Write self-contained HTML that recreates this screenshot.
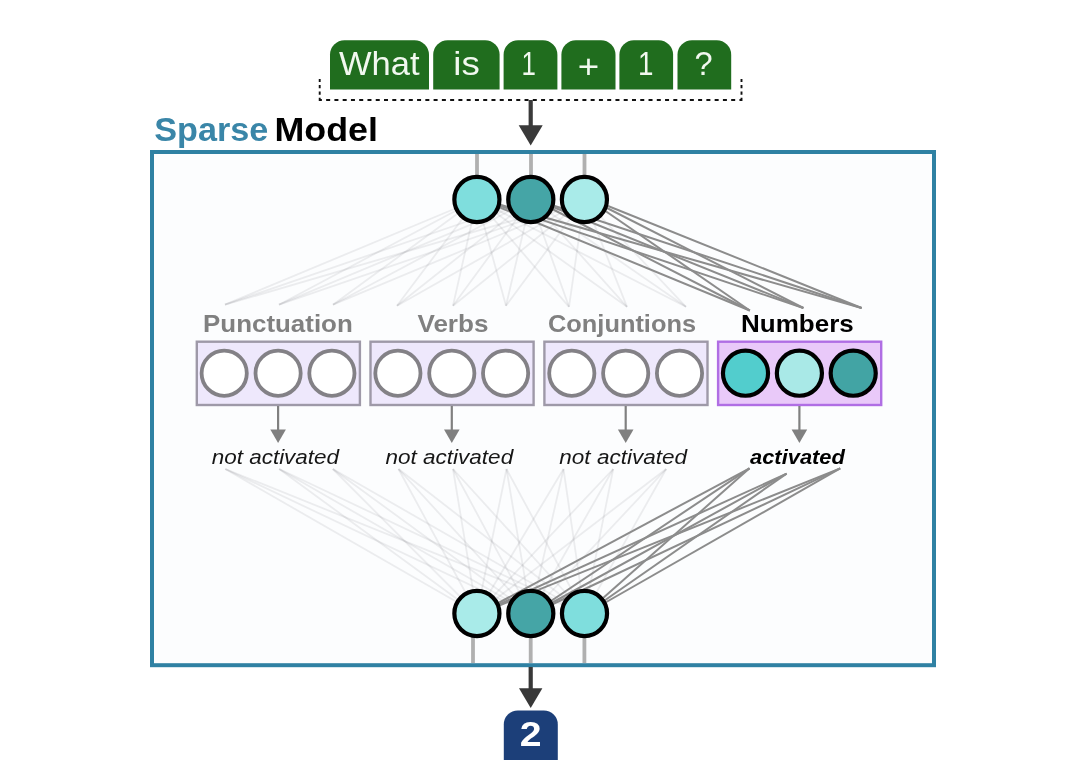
<!DOCTYPE html>
<html lang="en"><head><meta charset="utf-8"><title>Sparse Model</title>
<style>html,body{margin:0;padding:0;background:#fff;}body{width:1091px;height:783px;overflow:hidden;}svg{display:block;will-change:transform;}text{font-family:"Liberation Sans", sans-serif;}</style>
</head><body>
<svg width="1091" height="783" viewBox="0 0 1091 783">
<rect width="1091" height="783" fill="#ffffff"/>
<rect x="152" y="152" width="782" height="513.2" fill="#fcfdfe" stroke="#2f81a3" stroke-width="4"/>
<path d="M330.0,89.6 V54.7 A14.5,14.5 0 0 1 344.5,40.2 H414.5 A14.5,14.5 0 0 1 429.0,54.7 V89.6 Z" fill="#206d1e"/>
<text x="339.02" y="75.20" font-size="33.50" fill="#f1f8ef" textLength="80.61" lengthAdjust="spacingAndGlyphs">What</text>
<path d="M433.2,89.6 V54.7 A14.5,14.5 0 0 1 447.7,40.2 H485.1 A14.5,14.5 0 0 1 499.6,54.7 V89.6 Z" fill="#206d1e"/>
<text x="453.38" y="75.20" font-size="33.50" fill="#f1f8ef" textLength="26.46" lengthAdjust="spacingAndGlyphs">is</text>
<path d="M503.6,89.6 V54.7 A14.5,14.5 0 0 1 518.1,40.2 H542.9 A14.5,14.5 0 0 1 557.4,54.7 V89.6 Z" fill="#206d1e"/>
<text x="521.48" y="75.20" font-size="33.50" fill="#f1f8ef" textLength="14.38" lengthAdjust="spacingAndGlyphs">1</text>
<path d="M561.4,89.6 V54.7 A14.5,14.5 0 0 1 575.9,40.2 H601.0 A14.5,14.5 0 0 1 615.5,54.7 V89.6 Z" fill="#206d1e"/>
<text x="577.83" y="77.60" font-size="33.50" fill="#f1f8ef" textLength="21.46" lengthAdjust="spacingAndGlyphs">+</text>
<path d="M619.4,89.6 V54.7 A14.5,14.5 0 0 1 633.9,40.2 H658.6 A14.5,14.5 0 0 1 673.1,54.7 V89.6 Z" fill="#206d1e"/>
<text x="637.91" y="75.20" font-size="33.50" fill="#f1f8ef" textLength="15.45" lengthAdjust="spacingAndGlyphs">1</text>
<path d="M677.5,89.6 V54.7 A14.5,14.5 0 0 1 692.0,40.2 H716.7 A14.5,14.5 0 0 1 731.2,54.7 V89.6 Z" fill="#206d1e"/>
<text x="694.59" y="75.20" font-size="33.50" fill="#f1f8ef" textLength="18.14" lengthAdjust="spacingAndGlyphs">?</text>
<path d="M319.7,100.1 H741.5" fill="none" stroke="#111" stroke-width="2" stroke-dasharray="4 4.266" stroke-dashoffset="1.82"/>
<path d="M319.7,101.1 V79 M741.5,101.1 V79" fill="none" stroke="#111" stroke-width="1.9" stroke-dasharray="3.3 3.1"/>
<path d="M530.7,100 V128" stroke="#3a3a3a" stroke-width="4.2" fill="none"/>
<path d="M518.7,125.2 H542.7 L530.7,145.4 Z" fill="#3a3a3a"/>
<text x="154.32" y="141.20" font-size="32.50" fill="#3a86a8" textLength="114.05" lengthAdjust="spacingAndGlyphs" font-weight="bold">Sparse</text>
<text x="274.48" y="141.20" font-size="32.50" fill="#000" textLength="103.39" lengthAdjust="spacingAndGlyphs" font-weight="bold">Model</text>
<g stroke="#66686a" stroke-opacity="0.11" stroke-width="1.8" fill="none">
<path d="M476.9,199.5 L225.0,304.7"/>
<path d="M476.9,199.5 L279.0,304.7"/>
<path d="M476.9,199.5 L333.0,304.7"/>
<path d="M476.9,199.5 L397.0,305.8"/>
<path d="M476.9,199.5 L453.0,305.8"/>
<path d="M476.9,199.5 L506.0,305.8"/>
<path d="M476.9,199.5 L569.0,306.8"/>
<path d="M476.9,199.5 L627.0,306.8"/>
<path d="M476.9,199.5 L686.0,306.8"/>
<path d="M530.8,199.5 L225.0,304.7"/>
<path d="M530.8,199.5 L279.0,304.7"/>
<path d="M530.8,199.5 L333.0,304.7"/>
<path d="M530.8,199.5 L397.0,305.8"/>
<path d="M530.8,199.5 L453.0,305.8"/>
<path d="M530.8,199.5 L506.0,305.8"/>
<path d="M530.8,199.5 L569.0,306.8"/>
<path d="M530.8,199.5 L627.0,306.8"/>
<path d="M530.8,199.5 L686.0,306.8"/>
<path d="M584.4,199.5 L225.0,304.7"/>
<path d="M584.4,199.5 L279.0,304.7"/>
<path d="M584.4,199.5 L333.0,304.7"/>
<path d="M584.4,199.5 L397.0,305.8"/>
<path d="M584.4,199.5 L453.0,305.8"/>
<path d="M584.4,199.5 L506.0,305.8"/>
<path d="M584.4,199.5 L569.0,306.8"/>
<path d="M584.4,199.5 L627.0,306.8"/>
<path d="M584.4,199.5 L686.0,306.8"/>
<path d="M476.9,613.5 L225.3,469"/>
<path d="M476.9,613.5 L279.2,469"/>
<path d="M476.9,613.5 L332.8,469"/>
<path d="M476.9,613.5 L398.5,469"/>
<path d="M476.9,613.5 L453.0,469"/>
<path d="M476.9,613.5 L506.5,469"/>
<path d="M476.9,613.5 L563.5,469"/>
<path d="M476.9,613.5 L613.2,469"/>
<path d="M476.9,613.5 L666.2,469"/>
<path d="M530.8,613.5 L225.3,469"/>
<path d="M530.8,613.5 L279.2,469"/>
<path d="M530.8,613.5 L332.8,469"/>
<path d="M530.8,613.5 L398.5,469"/>
<path d="M530.8,613.5 L453.0,469"/>
<path d="M530.8,613.5 L506.5,469"/>
<path d="M530.8,613.5 L563.5,469"/>
<path d="M530.8,613.5 L613.2,469"/>
<path d="M530.8,613.5 L666.2,469"/>
<path d="M584.5,613.5 L225.3,469"/>
<path d="M584.5,613.5 L279.2,469"/>
<path d="M584.5,613.5 L332.8,469"/>
<path d="M584.5,613.5 L398.5,469"/>
<path d="M584.5,613.5 L453.0,469"/>
<path d="M584.5,613.5 L506.5,469"/>
<path d="M584.5,613.5 L563.5,469"/>
<path d="M584.5,613.5 L613.2,469"/>
<path d="M584.5,613.5 L666.2,469"/>
</g>
<g stroke="#8c8c8c" stroke-width="2" fill="none">
<path d="M476.9,198.0 L749.8,310.5"/>
<path d="M476.9,198.0 L803.4,308.0"/>
<path d="M476.9,198.0 L861.6,308.0"/>
<path d="M530.8,198.0 L749.8,310.5"/>
<path d="M530.8,198.0 L803.4,308.0"/>
<path d="M530.8,198.0 L861.6,308.0"/>
<path d="M584.4,196.5 L749.8,310.5"/>
<path d="M584.4,196.5 L803.4,308.0"/>
<path d="M584.4,196.5 L861.6,308.0"/>
<path d="M476.9,614.5 L749.5,468.3"/>
<path d="M476.9,614.5 L786.6,473.7"/>
<path d="M476.9,614.5 L840.2,468.4"/>
<path d="M530.8,614.5 L749.5,468.3"/>
<path d="M530.8,614.5 L786.6,473.7"/>
<path d="M530.8,614.5 L840.2,468.4"/>
<path d="M584.5,614.5 L749.5,468.3"/>
<path d="M584.5,614.5 L786.6,473.7"/>
<path d="M584.5,614.5 L840.2,468.4"/>
</g>
<g stroke="#b0b0b0" stroke-width="3.8">
<path d="M477.0,154 V178"/>
<path d="M531.0,154 V178"/>
<path d="M584.5,154 V178"/>
<path d="M473.0,634 V663"/>
<path d="M530.7,634 V663"/>
<path d="M584.4,634 V663"/>
</g>
<circle cx="476.9" cy="199.5" r="22.55" fill="#7fdedd" stroke="#000" stroke-width="4.2"/>
<circle cx="530.8" cy="199.5" r="22.55" fill="#45a5a6" stroke="#000" stroke-width="4.2"/>
<circle cx="584.4" cy="199.5" r="22.55" fill="#a9ebe9" stroke="#000" stroke-width="4.2"/>
<circle cx="476.9" cy="613.5" r="22.55" fill="#a9ebe9" stroke="#000" stroke-width="4.2"/>
<circle cx="530.8" cy="613.5" r="22.55" fill="#45a5a6" stroke="#000" stroke-width="4.2"/>
<circle cx="584.5" cy="613.5" r="22.55" fill="#7fdedd" stroke="#000" stroke-width="4.2"/>
<rect x="196.8" y="341.7" width="163.1" height="63.3" fill="#eee8fc" stroke="#9e99a8" stroke-width="2.4"/>
<circle cx="224.2" cy="373.2" r="22.6" fill="#ffffff" stroke="#838186" stroke-width="3.8"/>
<circle cx="278.1" cy="373.2" r="22.6" fill="#ffffff" stroke="#838186" stroke-width="3.8"/>
<circle cx="331.9" cy="373.2" r="22.6" fill="#ffffff" stroke="#838186" stroke-width="3.8"/>
<text x="203.09" y="331.70" font-size="24.00" fill="#808080" textLength="149.64" lengthAdjust="spacingAndGlyphs" font-weight="bold">Punctuation</text>
<path d="M278.1,406 V431" stroke="#808080" stroke-width="2.2"/>
<path d="M270.3,429.4 H285.9 L278.1,443 Z" fill="#808080"/>
<text x="211.70" y="463.80" font-size="19.50" fill="#161616" textLength="127.40" lengthAdjust="spacingAndGlyphs" font-style="italic">not activated</text>
<rect x="370.5" y="341.7" width="163.1" height="63.3" fill="#eee8fc" stroke="#9e99a8" stroke-width="2.4"/>
<circle cx="397.9" cy="373.2" r="22.6" fill="#ffffff" stroke="#838186" stroke-width="3.8"/>
<circle cx="451.8" cy="373.2" r="22.6" fill="#ffffff" stroke="#838186" stroke-width="3.8"/>
<circle cx="505.6" cy="373.2" r="22.6" fill="#ffffff" stroke="#838186" stroke-width="3.8"/>
<text x="417.45" y="331.70" font-size="24.00" fill="#808080" textLength="70.99" lengthAdjust="spacingAndGlyphs" font-weight="bold">Verbs</text>
<path d="M451.8,406 V431" stroke="#808080" stroke-width="2.2"/>
<path d="M444.0,429.4 H459.6 L451.8,443 Z" fill="#808080"/>
<text x="385.40" y="463.80" font-size="19.50" fill="#161616" textLength="127.80" lengthAdjust="spacingAndGlyphs" font-style="italic">not activated</text>
<rect x="544.4" y="341.7" width="163.1" height="63.3" fill="#eee8fc" stroke="#9e99a8" stroke-width="2.4"/>
<circle cx="571.8" cy="373.2" r="22.6" fill="#ffffff" stroke="#838186" stroke-width="3.8"/>
<circle cx="625.7" cy="373.2" r="22.6" fill="#ffffff" stroke="#838186" stroke-width="3.8"/>
<circle cx="679.5" cy="373.2" r="22.6" fill="#ffffff" stroke="#838186" stroke-width="3.8"/>
<text x="548.00" y="331.70" font-size="24.00" fill="#808080" textLength="147.99" lengthAdjust="spacingAndGlyphs" font-weight="bold">Conjuntions</text>
<path d="M625.7,406 V431" stroke="#808080" stroke-width="2.2"/>
<path d="M617.9,429.4 H633.5 L625.7,443 Z" fill="#808080"/>
<text x="559.30" y="463.80" font-size="19.50" fill="#161616" textLength="127.80" lengthAdjust="spacingAndGlyphs" font-style="italic">not activated</text>
<rect x="718.1" y="341.7" width="163.1" height="63.3" fill="#e9c9f9" stroke="#b06ee4" stroke-width="2.4"/>
<circle cx="745.5" cy="373.2" r="22.55" fill="#52cdcd" stroke="#000" stroke-width="4.2"/>
<circle cx="799.4" cy="373.2" r="22.55" fill="#a9e9e7" stroke="#000" stroke-width="4.2"/>
<circle cx="853.2" cy="373.2" r="22.55" fill="#42a4a4" stroke="#000" stroke-width="4.2"/>
<text x="741.07" y="331.70" font-size="24.00" fill="#000" textLength="112.65" lengthAdjust="spacingAndGlyphs" font-weight="bold">Numbers</text>
<path d="M799.4,406 V431" stroke="#808080" stroke-width="2.2"/>
<path d="M791.6,429.4 H807.2 L799.4,443 Z" fill="#808080"/>
<text x="750.00" y="463.80" font-size="19.50" fill="#000" textLength="94.90" lengthAdjust="spacingAndGlyphs" font-style="italic" font-weight="bold">activated</text>
<path d="M530.7,667 V692" stroke="#383838" stroke-width="4.2" fill="none"/>
<path d="M519,688.2 H542.4 L530.7,708 Z" fill="#383838"/>
<path d="M503.8,760.0 V724.5 A14.0,14.0 0 0 1 517.8,710.5 H543.8 A14.0,14.0 0 0 1 557.8,724.5 V760.0 Z" fill="#1c3f79"/>
<text x="519.89" y="746.00" font-size="35.30" fill="#ffffff" textLength="21.81" lengthAdjust="spacingAndGlyphs" font-weight="bold">2</text>
</svg>
</body></html>
